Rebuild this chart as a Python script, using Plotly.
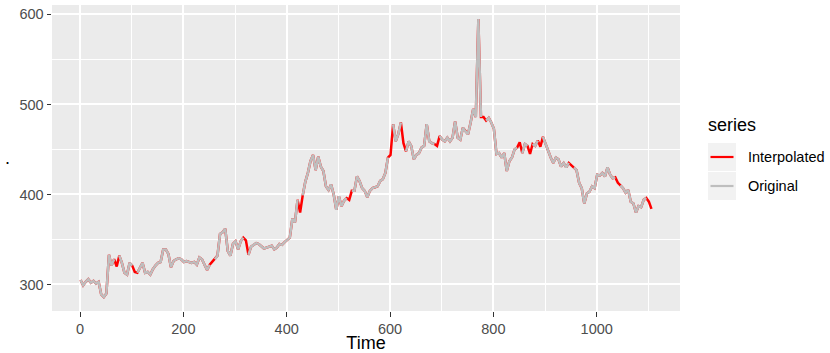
import plotly.graph_objects as go

# Time index (every 5th observation)
time = list(range(1, 1107, 5))

# Full series after filling the missing observations
interpolated = [
    305, 299, 303, 306, 302, 304, 301, 303, 289, 286,
    290, 333, 321, 328, 320, 332, 324, 313, 311, 324,
    321, 314, 313, 319, 324, 313, 314, 311, 317, 321,
    324, 325, 339, 339, 334, 319, 326, 328, 329, 328,
    325, 326, 325, 324, 325, 322, 330, 328, 322, 316,
    322, 325, 328, 332, 356, 358, 362, 337, 332, 345,
    348, 339, 348, 352, 349, 333, 342, 344, 346, 345,
    343, 340, 341, 342, 343, 339, 341, 345, 344, 347,
    350, 352, 373, 369, 394, 380, 399, 414, 424, 437,
    444, 427, 442, 431, 426, 409, 405, 411, 400, 383,
    398, 387, 393, 396, 394, 404, 404, 420, 415, 407,
    404, 397, 404, 407, 408, 409, 415, 417, 424, 441,
    444, 478, 459, 467, 480, 457, 448, 459, 454, 439,
    444, 446, 452, 454, 478, 459, 457, 456, 454, 465,
    461, 459, 463, 459, 463, 481, 463, 461, 474, 470,
    467, 480, 495, 486, 595, 486, 486, 482, 485, 480,
    473, 445, 446, 441, 446, 426, 437, 441, 450, 452,
    458, 446, 456, 454, 445, 456, 454, 460, 453, 464,
    456, 448, 441, 435, 441, 439, 431, 435, 430, 435,
    432, 430, 427, 413, 407, 390, 401, 403, 409, 407,
    422, 421, 424, 420, 430, 422, 418, 419, 413, 410,
    407, 402, 405, 392, 390, 380, 387, 386, 394, 396,
    392, 384,
]

# Time points that are missing in the raw series
missing_times = [71, 106, 256, 321, 426, 521, 601, 626, 691, 781,
                 851, 871, 891, 951, 1041, 1101]

original = [None if t in missing_times else v for t, v in zip(time, interpolated)]

series_names = ["Interpolated", "Original"]
series_colors = ["#FF0000", "#BEBEBE"]

W, H = 830, 353
ML, MR, MT, MB = 52, 150, 5, 42
PW, PH = W - ML - MR, H - MT - MB

fig = go.Figure()
for name, values, color in zip(series_names, [interpolated, original], series_colors):
    fig.add_trace(go.Scatter(
        x=time, y=values, mode="lines", name=name,
        line=dict(color=color, width=2.5), connectgaps=False,
        showlegend=False,
    ))

tick_font = dict(family="Liberation Sans, Arial, sans-serif", size=14.5, color="#4D4D4D")
title_font = dict(family="Liberation Sans, Arial, sans-serif", size=18, color="#000000")

x_lo, x_hi = min(time), max(time)
x_pad = 0.05 * (x_hi - x_lo)
y_lo, y_hi = min(interpolated), max(interpolated)
y_pad = 0.05 * (y_hi - y_lo)

fig.update_layout(
    width=W, height=H,
    margin=dict(l=ML, r=MR, t=MT, b=MB),
    paper_bgcolor="#FFFFFF",
    plot_bgcolor="#EBEBEB",
    xaxis=dict(
        range=[x_lo - x_pad, x_hi + x_pad],
        tickvals=[0, 200, 400, 600, 800, 1000],
        showgrid=True, gridcolor="#FFFFFF", gridwidth=2.2,
        minor=dict(tickvals=[100, 300, 500, 700, 900, 1100], showgrid=True,
                   gridcolor="#FFFFFF", gridwidth=1.1),
        ticks="outside", ticklen=4.5, tickwidth=1.2, tickcolor="#333333",
        tickfont=tick_font, zeroline=False, showline=False,
        title=dict(text="Time", font=title_font, standoff=5),
        automargin=False,
    ),
    yaxis=dict(
        range=[y_lo - y_pad, y_hi + y_pad],
        tickvals=[300, 400, 500, 600],
        showgrid=True, gridcolor="#FFFFFF", gridwidth=2.2,
        minor=dict(tickvals=[350, 450, 550], showgrid=True,
                   gridcolor="#FFFFFF", gridwidth=1.1),
        ticks="outside", ticklen=4.5, tickwidth=1.2, tickcolor="#333333",
        tickfont=tick_font, zeroline=False, showline=False,
        automargin=False,
    ),
)


def px_x(px):
    return (px - ML) / PW


def px_y(py):
    return (H - MB - py) / PH


# y-axis title (a single dot) at the left edge
fig.add_annotation(
    xref="paper", yref="paper", x=px_x(3), y=px_y(158),
    xanchor="left", yanchor="middle", showarrow=False,
    text=".", font=title_font,
)

# Legend drawn on the right of the panel
fig.add_annotation(
    xref="paper", yref="paper", x=px_x(706), y=px_y(125),
    xanchor="left", yanchor="middle", showarrow=False,
    text="series", font=title_font,
)
key_top = 143
key_h = 28
for i, (name, color) in enumerate(zip(series_names, series_colors)):
    top = key_top + i * (key_h + 1)
    mid = top + key_h / 2
    fig.add_shape(
        type="rect", xref="paper", yref="paper",
        x0=px_x(708), x1=px_x(736), y0=px_y(top + key_h), y1=px_y(top),
        fillcolor="#F2F2F2", line=dict(width=0), layer="below",
    )
    fig.add_shape(
        type="line", xref="paper", yref="paper",
        x0=px_x(710.5), x1=px_x(733.5), y0=px_y(mid), y1=px_y(mid),
        line=dict(color=color, width=2.2),
    )
    fig.add_annotation(
        xref="paper", yref="paper", x=px_x(746), y=px_y(mid),
        xanchor="left", yanchor="middle", showarrow=False,
        text=name, font=dict(family="Liberation Sans, Arial, sans-serif",
                             size=14.5, color="#000000"),
    )

fig.write_html("out.html")
